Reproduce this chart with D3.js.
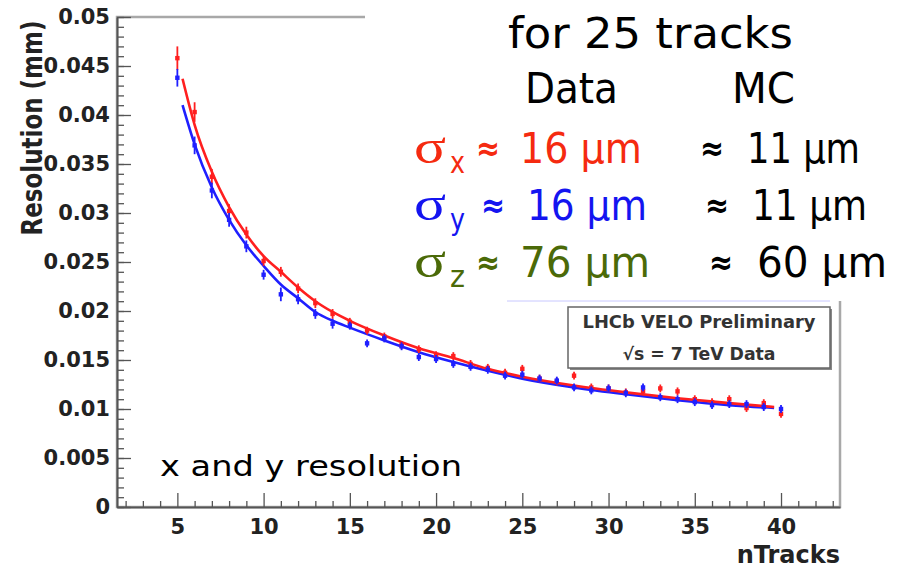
<!DOCTYPE html>
<html>
<head>
<meta charset="utf-8">
<script src="https://cdn.jsdelivr.net/npm/d3@7"></script>
<style>
body {margin:0; background:#fff}
svg {display:block}
</style>
</head>
<body>
<svg id="chart" width="900" height="570"></svg>
<script>
/*** Data ***/
const nTracks = [5,6,7,8,9,10,11,12,13,14,15,16,17,18,19,20,21,22,23,24,25,26,27,28,29,30,31,32,33,34,35,36,37,38,39,40]

const resX = [0.0458,0.0403,0.0337,0.0302,0.0280,0.0251,0.0240,0.0223,0.0208,0.0197,0.0189,0.0180,0.0174,0.0165,0.0161,0.0155,0.0154,0.0146,0.0142,0.0137,
              0.0141,0.0131,0.0128,0.0134,0.0122,0.0121,0.0117,0.0118,0.0121,0.0118,0.0110,0.0107,0.0110,0.0101,0.0106,0.0095]
const errX = [0.0012,0.0010,0.0008,0.0007,0.0006,0.0005,0.0005,0.0005,0.0005,0.0005,0.0004,0.0004,0.0004,0.0004,0.0004,0.0004,0.0004,0.0004,0.0004,0.0004,
              0.0004,0.0004,0.0004,0.0004,0.0004,0.0004,0.0004,0.0004,0.0004,0.0004,0.0004,0.0004,0.0004,0.0004,0.0004,0.0004]

const resY = [0.0438,0.0369,0.0323,0.0293,0.0266,0.0237,0.0217,0.0212,0.0197,0.0187,0.0185,0.0167,0.0172,0.0164,0.0153,0.0151,0.0146,0.0143,0.0140,0.0134,
              0.0135,0.0131,0.0129,0.0122,0.0119,0.0121,0.0116,0.0122,0.0112,0.0110,0.0107,0.0104,0.0105,0.0105,0.0102,0.0100]
const errY = [0.0009,0.0009,0.0008,0.0007,0.0006,0.0005,0.0007,0.0005,0.0005,0.0005,0.0004,0.0004,0.0004,0.0004,0.0004,0.0004,0.0004,0.0004,0.0004,0.0004,
              0.0004,0.0004,0.0004,0.0004,0.0004,0.0004,0.0004,0.0004,0.0004,0.0004,0.0004,0.0004,0.0004,0.0004,0.0004,0.0004]

// fitted curves, sampled by eye
const fitN    = [5.3,6,7,8,9,10,11,12,13,14,15,17,19,21,23,25,28,31,34,37,39.6]
const fitX    = [0.0437,0.0390,0.0342,0.0306,0.0278,0.0256,0.0240,0.0224,0.0210,0.0199,0.0190,0.0175,0.0162,0.0152,0.0141,0.0133,0.0124,0.0117,0.0111,0.0106,0.0102]
const fitY    = [0.0410,0.0370,0.0326,0.0293,0.0267,0.0246,0.0227,0.0213,0.0199,0.0190,0.0183,0.0170,0.0158,0.0148,0.0139,0.0131,0.0122,0.0115,0.0109,0.0104,0.0101]

const yTicks = [0,0.005,0.01,0.015,0.02,0.025,0.03,0.035,0.04,0.045,0.05]
const xTicks = [5,10,15,20,25,30,35,40]

const legendLines = ["LHCb VELO Preliminary", "\u221As = 7 TeV Data"]

/*** Draw ***/
var svg = d3.select("#chart")
var L = 117, R = 840, T = 17, B = 507
var x = d3.scaleLinear().domain([1.5, 43.42]).range([L, R])
var y = d3.scaleLinear().domain([0, 0.05]).range([B, T])
var red = "#ff1f1f", blue = "#1f1fff"
var tickFont = "DejaVu Sans, sans-serif"

// frame
svg.append("rect")
   .attr("x", L).attr("y", T).attr("width", R-L).attr("height", B-T)
   .attr("fill", "none").attr("stroke", "#a8a8a8").attr("stroke-width", 2.5)

// minor ticks
var ym = svg.append("g").attr("transform", "translate("+L+",0)")
            .call(d3.axisLeft(y).tickValues(d3.range(0, 51).map(i => i/1000)).tickSize(-7).tickFormat(""))
ym.select(".domain").remove()
var xm = svg.append("g").attr("transform", "translate(0,"+B+")")
            .call(d3.axisBottom(x).tickValues([2,3,4,6,7,8,9,11,12,13,14,16,17,18,19,21,22,23,24,26,27,28,29,31,32,33,34,36,37,38,39,41,42,43]).tickSize(-6).tickFormat(""))
xm.select(".domain").remove()

// major axes
var ya = svg.append("g").attr("transform", "translate("+L+",0)")
            .call(d3.axisLeft(y).tickValues(yTicks).tickSizeInner(-14).tickSizeOuter(0).tickPadding(7).tickFormat(d => d3.format("")(+d.toFixed(3))))
var xa = svg.append("g").attr("transform", "translate(0,"+B+")")
            .call(d3.axisBottom(x).tickValues(xTicks).tickSizeInner(-14).tickSizeOuter(0).tickPadding(12))
;[ya, xa, ym, xm].forEach(g => {
	g.selectAll("line").attr("stroke", "#555").attr("stroke-width", 1.3)
	g.selectAll("text").attr("font-family", tickFont).attr("font-weight", "bold").attr("font-size", 21).attr("fill", "#222")
	g.select(".domain").attr("stroke", "#555").attr("stroke-width", 2)
})

// axis titles
svg.append("text")
   .attr("transform", "translate(42,128) scale(1.2,1) rotate(-90)")
   .attr("text-anchor", "middle")
   .attr("font-family", tickFont).attr("font-weight", "bold").attr("font-size", 23).attr("fill", "#222")
   .text("Resolution (mm)")
svg.append("text")
   .attr("x", R).attr("y", 563).attr("text-anchor", "end")
   .attr("font-family", tickFont).attr("font-weight", "bold").attr("font-size", 24).attr("fill", "#222")
   .text("nTracks")

// fits
var line = d3.line().x(d => x(d[0])).y(d => y(d[1])).curve(d3.curveMonotoneX)
svg.append("path").datum(fitN.map((n,i) => [n, fitY[i]]))
   .attr("d", line).attr("fill", "none").attr("stroke", blue).attr("stroke-width", 2.6)
svg.append("path").datum(fitN.map((n,i) => [n, fitX[i]]))
   .attr("d", line).attr("fill", "none").attr("stroke", red).attr("stroke-width", 2.6)

// points with error bars
function points(vals, errs, col) {
	var g = svg.append("g")
	var d = nTracks.map((n,i) => ({n: n, v: vals[i], e: errs[i]}))
	g.selectAll("line").data(d).enter().append("line")
	 .attr("x1", p => x(p.n)).attr("x2", p => x(p.n))
	 .attr("y1", p => y(p.v - p.e)).attr("y2", p => y(p.v + p.e))
	 .attr("stroke", col).attr("stroke-width", 1.8)
	g.selectAll("rect").data(d).enter().append("rect")
	 .attr("x", p => x(p.n) - 2.2).attr("y", p => y(p.v) - 2.2)
	 .attr("width", 4.4).attr("height", 4.4).attr("fill", col)
}
points(resX, errX, red)
points(resY, errY, blue)

// legend pave
svg.append("rect").attr("x", 570).attr("y", 309).attr("width", 262).attr("height", 61).attr("fill", "#888")
svg.append("rect").attr("x", 568).attr("y", 307).attr("width", 262).attr("height", 61)
   .attr("fill", "#fff").attr("stroke", "#666").attr("stroke-width", 1.5)
svg.selectAll(".leg").data(legendLines).enter().append("text")
   .attr("class", "leg")
   .attr("x", 699).attr("y", (d,i) => 328 + i*32).attr("text-anchor", "middle")
   .attr("textLength", (d,i) => i ? 153 : 233).attr("lengthAdjust", "spacingAndGlyphs")
   .attr("font-family", tickFont).attr("font-weight", "bold").attr("font-size", 17).attr("fill", "#333")
   .text(d => d)

// slide text box over the top right of the plot
svg.append("rect").attr("x", 365).attr("y", 0).attr("width", 535).attr("height", 301).attr("fill", "#fff")
svg.append("line").attr("x1", 507).attr("x2", 830).attr("y1", 301).attr("y2", 301)
   .attr("stroke", "#c8c8ff").attr("stroke-width", 1)

/*** Annotation ***/
var hand = "DejaVu Sans, sans-serif"
function txt(s, px, py, opt) {
	var t = svg.append("text").attr("x", px).attr("y", py)
	           .attr("font-family", opt.font ?? hand).attr("font-size", opt.size ?? 42)
	           .attr("fill", opt.col ?? "#000").text(s)
	if (opt.len) t.attr("textLength", opt.len).attr("lengthAdjust", "spacingAndGlyphs")
	if (opt.bold) t.attr("font-weight", "bold")
	return t
}
txt("for 25 tracks", 508, 48, {len: 285})
txt("Data", 525, 103, {len: 93})
txt("MC", 732, 103, {len: 63})

var rows = [
	{sub: "x", col: "#f52a10", y: 163, ax: 476, val: "16 \u03bcm", vx: 520, vl: 122, mx: 700, mc: "11 \u03bcm", mcx: 747, mcl: 113},
	{sub: "y", col: "#1414f0", y: 220, ax: 481, val: "16 \u03bcm", vx: 527, vl: 120, mx: 705, mc: "11 \u03bcm", mcx: 752, mcl: 115},
	{sub: "z", col: "#4b6a08", y: 277, ax: 476, val: "76 \u03bcm", vx: 520, vl: 130, mx: 709, mc: "60 \u03bcm", mcx: 757, mcl: 130}
]
rows.forEach(r => {
	txt("\u03c3", 414, r.y, {font: "Liberation Serif, serif", size: 48, col: r.col, len: 32})
	txt(r.sub, 450, r.y + 10, {size: 30, col: r.col, len: 15})
	txt("\u2248", r.ax, r.y - 3, {size: 34, col: r.col, bold: true, len: 24})
	txt(r.val, r.vx, r.y, {col: r.col, len: r.vl})
	txt("\u2248", r.mx, r.y - 3, {size: 34, bold: true, len: 24})
	txt(r.mc, r.mcx, r.y, {len: r.mcl})
})

txt("x and y resolution", 160, 476, {size: 28, len: 302})
</script>
</body>
</html>
